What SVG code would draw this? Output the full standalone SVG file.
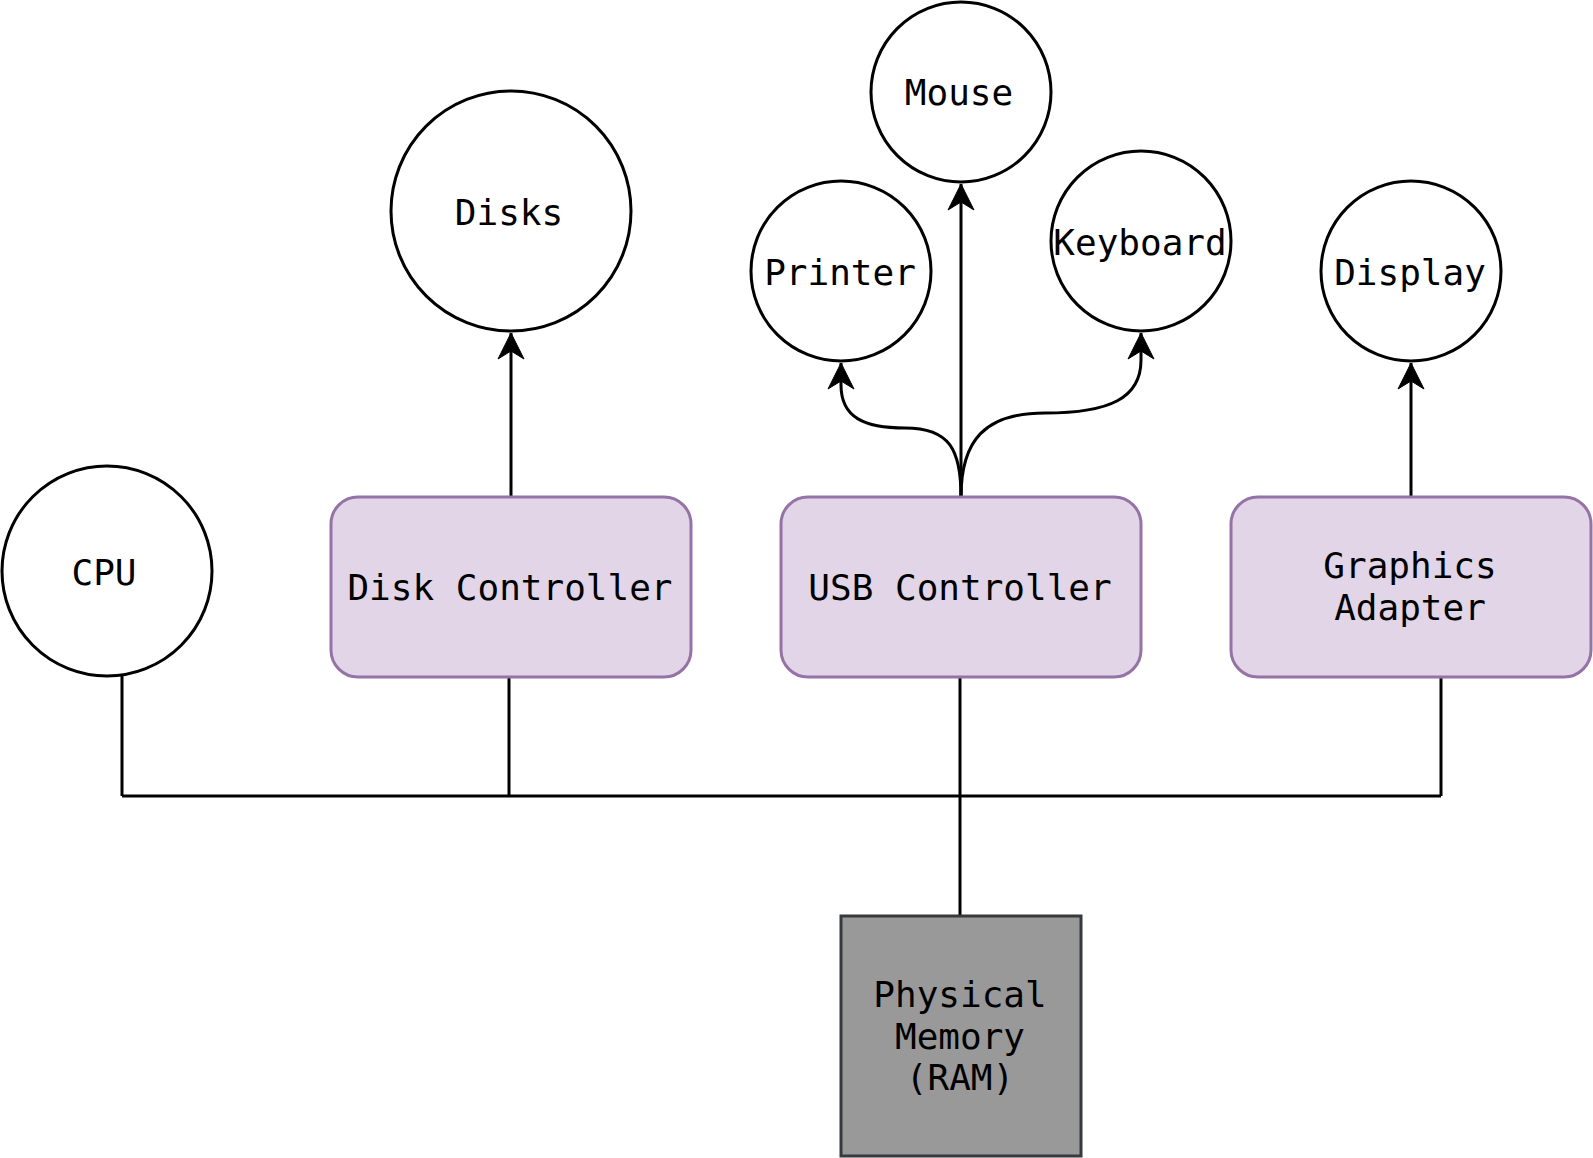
<svg xmlns="http://www.w3.org/2000/svg" width="1593" height="1158" viewBox="0 0 1593 1158">
<defs>
<style>
.c{fill:#ffffff;stroke:#000000;stroke-width:3}
.r{fill:#e1d5e7;stroke:#9673a6;stroke-width:3}
.m{fill:#999999;stroke:#36393d;stroke-width:3}
.t{font-family:"DejaVu Sans Mono","Liberation Mono",monospace;font-size:36px;fill:#000000;text-anchor:middle}
.e{fill:none;stroke:#000000;stroke-width:3}
</style>
<marker id="arr" markerUnits="userSpaceOnUse" markerWidth="32" markerHeight="32" viewBox="-28 -16 32 32" refX="0" refY="0" orient="auto">
<path d="M0,0 L-26,-13 L-18,0 L-26,13 Z" fill="#000000" stroke="#000000" stroke-width="1"/>
</marker>
</defs>
<rect width="1593" height="1158" fill="#ffffff"/>
<g id="connectors">
<path class="e" d="M511,497 L511,333" marker-end="url(#arr)"/>
<path class="e" d="M961,497 L961,184" marker-end="url(#arr)"/>
<path class="e" d="M961,497 C961,450 950,428 905,428 C865,428 841,418 841,385 L841,363" marker-end="url(#arr)"/>
<path class="e" d="M961,497 C961,440 985,413 1045,413 C1110,413 1141,398 1141,360 L1141,333" marker-end="url(#arr)"/>
<path class="e" d="M1411,497 L1411,363" marker-end="url(#arr)"/>
<path class="e" d="M122,676 L122,796"/>
<path class="e" d="M509,677 L509,796"/>
<path class="e" d="M960,677 L960,916"/>
<path class="e" d="M1441,677 L1441,796"/>
<path class="e" d="M122,796 L1441,796"/>
</g>
<g id="cpu"><circle class="c" cx="107" cy="571" r="105"/><text class="t" x="104" y="585">CPU</text></g>
<g id="disks"><circle class="c" cx="511" cy="211" r="120"/><text class="t" x="509" y="225">Disks</text></g>
<g id="mouse"><circle class="c" cx="961" cy="92" r="90"/><text class="t" x="959" y="105">Mouse</text></g>
<g id="printer"><circle class="c" cx="841" cy="271" r="90"/><text class="t" x="840" y="285">Printer</text></g>
<g id="keyboard"><circle class="c" cx="1141" cy="241" r="90"/><text class="t" x="1140" y="255">Keyboard</text></g>
<g id="display"><circle class="c" cx="1411" cy="271" r="90"/><text class="t" x="1410" y="285">Display</text></g>
<g id="disk-controller"><rect class="r" x="331" y="497" width="360" height="180" rx="27" ry="27"/><text class="t" x="510" y="600">Disk Controller</text></g>
<g id="usb-controller"><rect class="r" x="781" y="497" width="360" height="180" rx="27" ry="27"/><text class="t" x="960" y="600">USB Controller</text></g>
<g id="graphics-adapter"><rect class="r" x="1231" y="497" width="360" height="180" rx="27" ry="27"/><text class="t" x="1410" y="578">Graphics</text><text class="t" x="1410" y="620">Adapter</text></g>
<g id="ram"><rect class="m" x="841" y="916" width="240" height="240"/><text class="t" x="960" y="1007">Physical</text><text class="t" x="960" y="1049">Memory</text><text class="t" x="960" y="1090">(RAM)</text></g>
</svg>
